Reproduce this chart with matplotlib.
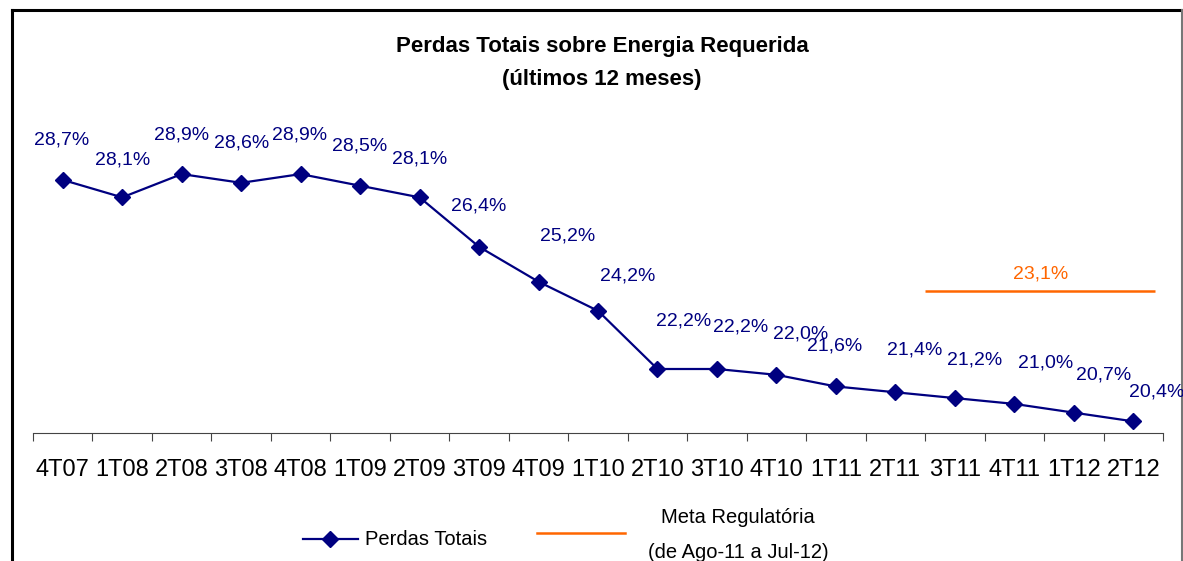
import numpy as np
import matplotlib
matplotlib.use('Agg')
import matplotlib.pyplot as plt

# dados
trimestres = ['4T07', '1T08', '2T08', '3T08', '4T08', '1T09', '2T09', '3T09', '4T09', '1T10',
              '2T10', '3T10', '4T10', '1T11', '2T11', '3T11', '4T11', '1T12', '2T12']
perdas = [28.7, 28.1, 28.9, 28.6, 28.9, 28.5, 28.1, 26.4, 25.2, 24.2,
          22.2, 22.2, 22.0, 21.6, 21.4, 21.2, 21.0, 20.7, 20.4]
meta_valor = 23.1
meta_inicio = '3T11'
meta_fim = '2T12'

# deslocamento dos rotulos (pixels)
rot_dx = [-1, 0, 0, 0, -1, 0, 0, 0, 29, 30, 26, 24, 24, -1, 19, 20, 31, 30, 23]
rot_dy = [35, 33, 35, 35, 35, 35, 34, 36, 41, 30, 44, 38, 36, 36, 38, 34, 36, 33, 25]

navy = '#000080'
laranja = '#FF6600'
fonte = ['Liberation Sans', 'DejaVu Sans']

W, H = 1183, 561
fig = plt.figure(figsize=(W / 100, H / 100), dpi=100)

# camada para moldura e legenda (coordenadas em pixels)
lax = fig.add_axes([0, 0, 1, 1])
lax.set_xlim(0, W)
lax.set_ylim(H, 0)
lax.axis('off')

ax = fig.add_axes([33 / W, (H - 433) / H, 1130 / W, 320 / H])
x = np.arange(len(trimestres))
ax.plot(x, perdas, color=navy, lw=1.6, marker='D', ms=8, zorder=3)
ax.set_xlim(-0.5, len(trimestres) - 0.5)
ax.set_ylim(20.0, 31.0)
for s in ['left', 'right', 'top']:
    ax.spines[s].set_visible(False)
ax.spines['bottom'].set_color('#444444')
ax.set_yticks([])
ax.set_xticks(np.arange(len(trimestres) + 1) - 0.5)
ax.set_xticklabels([])
ax.tick_params(axis='x', which='major', direction='out', length=6, color='#444444')
ax.set_xticks(x, minor=True)
ax.set_xticklabels(trimestres, minor=True, fontsize=17, family=fonte)
ax.tick_params(axis='x', which='minor', length=0, pad=19)
ax.patch.set_alpha(0)

for i, v in enumerate(perdas):
    ax.annotate(f'{v:.1f}%'.replace('.', ','), (x[i], v), xytext=(rot_dx[i], rot_dy[i]),
                textcoords='offset pixels', ha='center', va='baseline',
                color=navy, fontsize=14, family=fonte)

# meta regulatoria no eixo secundario
ax2 = ax.twinx()
ax2.set_ylim(0, 52.06)
ax2.set_axis_off()
i0 = trimestres.index(meta_inicio) - 0.5
i1 = trimestres.index(meta_fim) + 0.37
ax2.hlines(meta_valor, i0, i1, color=laranja, lw=1.8)
ax2.annotate(f'{meta_valor:.1f}%'.replace('.', ','), ((i0 + i1) / 2, meta_valor), xytext=(0, 13),
             textcoords='offset pixels', ha='center', va='baseline',
             color=laranja, fontsize=14, family=fonte)

# titulo
fig.text(602 / W, 1 - 52 / H, 'Perdas Totais sobre Energia Requerida', ha='center', va='baseline',
         fontsize=16, weight='bold', family=fonte)
fig.text(602 / W, 1 - 85 / H, '(últimos 12 meses)', ha='center', va='baseline',
         fontsize=16, weight='bold', family=fonte)

# legenda
lax.plot([303, 358], [539, 539], color=navy, lw=1.6)
lax.plot([330], [539], marker='D', ms=8, color=navy)
lax.text(365, 545, 'Perdas Totais', ha='left', va='baseline', fontsize=14.5, family=fonte)
lax.plot([537, 625], [533, 533], color=laranja, lw=1.8)
lax.text(738, 523, 'Meta Regulatória', ha='center', va='baseline', fontsize=14.5, family=fonte)
lax.text(738, 558, '(de Ago-11 a Jul-12)', ha='center', va='baseline', fontsize=14.5, family=fonte)

# moldura
lax.plot([12, 12], [10, H + 5], color='black', lw=2.2, clip_on=False)
lax.plot([12, 1182], [10, 10], color='black', lw=2.2, clip_on=False)
lax.plot([1182, 1182], [10, H + 5], color='#777777', lw=1.5, clip_on=False)

fig.savefig('out.png', dpi=100)
